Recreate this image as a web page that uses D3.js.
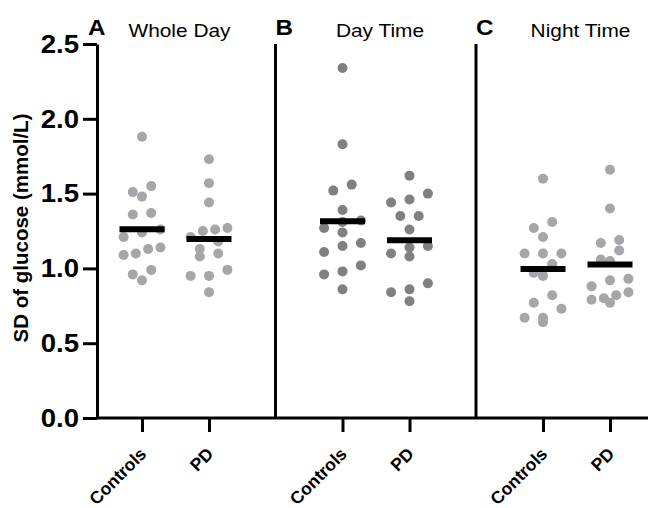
<!DOCTYPE html>
<html>
<head>
<meta charset="utf-8">
<script src="https://cdn.jsdelivr.net/npm/d3@7"></script>
<style>
  html, body { margin: 0; padding: 0; background: #fff; }
  svg { display: block; font-family: "Liberation Sans", Arial, sans-serif; }
</style>
</head>
<body>
<svg id="chart" width="648" height="508"></svg>
<script>
// Glucose variability (SD, mmol/L) per subject, by period and group
const periods = ["Whole Day", "Day Time", "Night Time"];
const periodLetters = ["A", "B", "C"];
const groups = ["Controls", "PD"];

const wholeDayControls = [1.88, 1.55, 1.51, 1.48, 1.37, 1.36, 1.26, 1.24, 1.21, 1.14, 1.13, 1.10, 1.09, 0.99, 0.96, 0.92];
const wholeDayPD       = [1.73, 1.57, 1.44, 1.27, 1.26, 1.25, 1.21, 1.18, 1.13, 1.10, 1.08, 0.99, 0.95, 0.95, 0.84];
const dayControls      = [2.34, 1.83, 1.56, 1.52, 1.39, 1.32, 1.31, 1.27, 1.24, 1.17, 1.15, 1.11, 1.02, 0.98, 0.96, 0.86];
const dayPD            = [1.62, 1.50, 1.46, 1.44, 1.35, 1.35, 1.26, 1.15, 1.14, 1.10, 1.08, 0.90, 0.86, 0.84, 0.78];
const nightControls    = [1.60, 1.31, 1.27, 1.21, 1.10, 1.10, 1.10, 1.03, 0.97, 0.95, 0.82, 0.77, 0.73, 0.67, 0.67, 0.64];
const nightPD          = [1.66, 1.40, 1.19, 1.17, 1.12, 1.06, 1.05, 0.93, 0.92, 0.88, 0.84, 0.82, 0.80, 0.79, 0.77];

const yTicks = [0, 0.5, 1.0, 1.5, 2.0, 2.5];
const pointColors = ["#a5a5aa", "#808080", "#a5a5aa"];

const seriesByPeriod = [
  [wholeDayControls, wholeDayPD],
  [dayControls, dayPD],
  [nightControls, nightPD]
];

const svg = d3.select("#chart");
const W = 648;
const axisColor = "#000";
const axisWidth = 3;
const r = 5;

const y = d3.scaleLinear().domain([0, 2.5]).range([418, 44]);
const panelX = d3.scaleBand().domain(periods).range([75, 676.5]);
const groupX = d3.scalePoint().domain(groups).range([67, 134]);

// Rows of nearby values are spread side by side, Prism-style
function swarm(values) {
  const sorted = values.map(v => ({ v, py: y(v) })).sort((a, b) => a.py - b.py);
  const rows = [];
  sorted.forEach(p => {
    const row = rows[rows.length - 1];
    if (row && p.py - row[0].py < 2 * r) row.push(p);
    else rows.push([p]);
  });
  rows.forEach(row => {
    const n = row.length;
    const step = n <= 3 ? 18.4 : 12.3;
    row.forEach((p, i) => { p.dx = ((n - 1) / 2 - i) * step; });
  });
  return sorted;
}

periods.forEach((period, pi) => {
  const x0 = panelX(period);
  const g = svg.append("g");

  // points
  seriesByPeriod[pi].forEach((vals, gi) => {
    const cx = x0 + groupX(groups[gi]);
    g.selectAll(null).data(swarm(vals)).join("circle")
      .attr("cx", d => cx + d.dx)
      .attr("cy", d => d.py)
      .attr("r", r)
      .attr("fill", pointColors[pi]);
  });

  // mean bars
  seriesByPeriod[pi].forEach((vals, gi) => {
    const cx = x0 + groupX(groups[gi]);
    const m = d3.mean(vals);
    g.append("line")
      .attr("x1", cx - 22.5).attr("x2", cx + 22.5)
      .attr("y1", y(m)).attr("y2", y(m))
      .attr("stroke", "#000").attr("stroke-width", 6);
  });

  // panel divider (left edge of panels B and C)
  if (pi > 0) {
    g.append("line")
      .attr("x1", x0).attr("x2", x0)
      .attr("y1", y(2.5)).attr("y2", y(0))
      .attr("stroke", axisColor).attr("stroke-width", axisWidth);
  }

  // x ticks and labels
  const xa = d3.scalePoint().domain(groups).range([x0 + groupX.range()[0], x0 + groupX.range()[1]]);
  const ax = g.append("g").attr("transform", `translate(0,${y(0)})`)
    .call(d3.axisBottom(xa).tickSize(14).tickSizeOuter(0));
  ax.select(".domain").remove();
  ax.selectAll(".tick line").attr("stroke", axisColor).attr("stroke-width", axisWidth);
  ax.selectAll(".tick text")
    .attr("font-family", "Liberation Sans, Arial, sans-serif")
    .attr("font-size", 17.5).attr("font-weight", "bold").attr("fill", "#000")
    .attr("text-anchor", "end")
    .attr("transform", "translate(5,37) rotate(-45)")
    .attr("x", 0).attr("y", 0).attr("dy", null);

  // panel heading: letter at the panel's left edge, title over the two groups
  const headX = pi === 0 ? 88 : x0;
  g.append("text")
    .attr("transform", `translate(${headX},35) scale(1.1,1)`)
    .attr("font-size", 22).attr("font-weight", "bold").text(periodLetters[pi]);
  const mid = x0 + (groupX.range()[0] + groupX.range()[1]) / 2 + 4;
  g.append("text")
    .attr("transform", `translate(${mid},37) scale(1.13,1)`)
    .attr("text-anchor", "middle")
    .attr("font-size", 18.5).text(period);
});

// x axis baseline
svg.append("line")
  .attr("x1", 97).attr("x2", W)
  .attr("y1", y(0)).attr("y2", y(0))
  .attr("stroke", axisColor).attr("stroke-width", axisWidth);

// y axis
const yAxis = svg.append("g").attr("transform", "translate(97,0)")
  .call(d3.axisLeft(y).tickValues(yTicks).tickFormat(d3.format(".1f")).tickSize(14).tickSizeOuter(0).tickPadding(3));
yAxis.select(".domain").attr("stroke", axisColor).attr("stroke-width", axisWidth);
yAxis.selectAll(".tick line").attr("stroke", axisColor).attr("stroke-width", axisWidth);
yAxis.selectAll(".tick text")
  .attr("font-family", "Liberation Sans, Arial, sans-serif")
  .attr("font-size", 26).attr("font-weight", "bold").attr("fill", "#000")
  .attr("transform", "scale(1.06,1)");

// y axis title
svg.append("text")
  .attr("transform", `translate(28,${(y(2.5) + y(0)) / 2 - 3}) rotate(-90)`)
  .attr("text-anchor", "middle")
  .attr("font-size", 20.5).attr("font-weight", "bold")
  .text("SD of glucose (mmol/L)");
</script>
</body>
</html>
